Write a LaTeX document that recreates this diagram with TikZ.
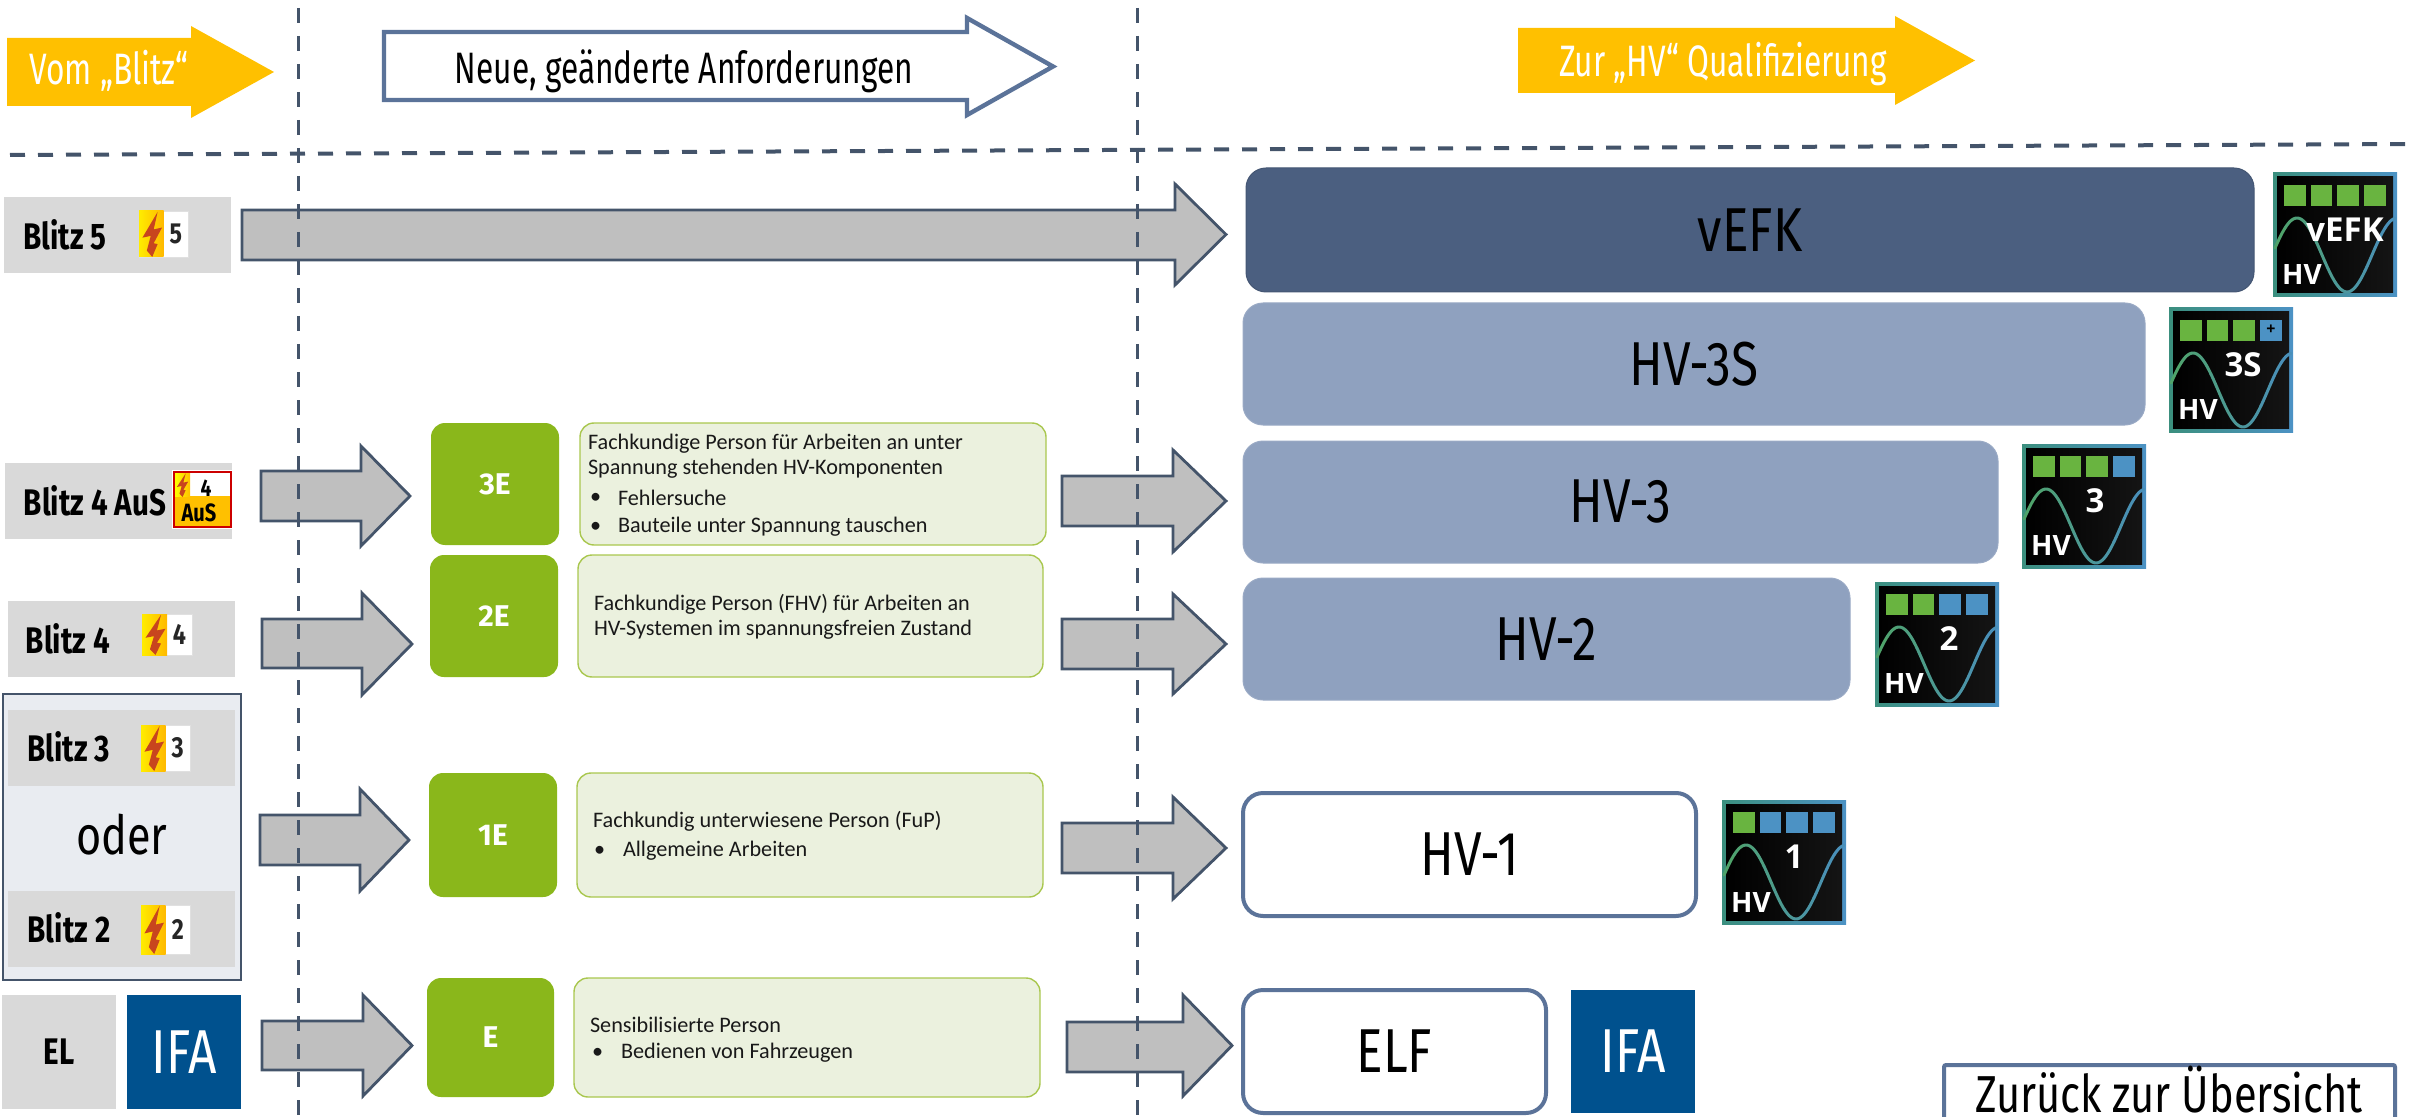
\documentclass[tikz,border=0pt]{standalone}
\usepackage{fontspec}
\setmainfont{Fira Sans}
\newfontfamily\cond[FakeStretch=0.72]{Fira Sans}
\newfontfamily\condb[FakeStretch=0.8]{Fira Sans}
\newfontfamily\desc{Carlito}
\newfontfamily\ico{Open Sans}
\usetikzlibrary{calc,shadings}
\definecolor{dashc}{HTML}{44546A}
\definecolor{steel}{HTML}{5B7399}
\definecolor{boxgrey}{HTML}{D9D9D9}
\definecolor{arrgrey}{HTML}{BFBFBF}
\definecolor{amber}{HTML}{FFC000}
\definecolor{leaf}{HTML}{8AB71B}
\definecolor{pale}{HTML}{EBF1DE}
\definecolor{paleedge}{HTML}{A9C74F}
\definecolor{hvmid}{HTML}{8FA1BF}
\definecolor{hvdark}{HTML}{4B5F80}
\definecolor{ifablue}{HTML}{00518E}
\definecolor{panel}{HTML}{E9ECF1}
\definecolor{icogreen}{HTML}{69B440}
\definecolor{icoblue}{HTML}{4C92C4}
\definecolor{icoteal}{HTML}{3B8F7E}
\definecolor{wavea}{HTML}{4FA36B}
\definecolor{waveb}{HTML}{4A90B8}
\definecolor{boltc}{HTML}{C8451E}
\tikzset{
  x=0.5pt,y=-0.5pt,
  every node/.style={inner sep=0pt,outer sep=0pt,align=center,text=black},
  greybox/.style={fill=boxgrey},
  blockbig/.style={draw=dashc,line width=1.4pt,fill=arrgrey,line join=miter},
  leafbox/.style={fill=leaf,rounded corners=7pt,text=white,font=\bfseries\fontsize{15}{17}\selectfont},
  palebox/.style={fill=pale,draw=paleedge,line width=0.7pt,rounded corners=7pt},
  hvfilled/.style={fill=hvmid,draw=hvmid!90!white,line width=0.5pt,rounded corners=10pt,font=\condb\fontsize{31}{36}\selectfont},
  hvdarkbox/.style={fill=hvdark,draw=hvdark!90!black,line width=0.5pt,rounded corners=10pt,font=\condb\fontsize{31}{36}\selectfont},
  hvopen/.style={fill=white,draw=steel,line width=2pt,rounded corners=10pt,font=\condb\fontsize{31}{36}\selectfont},
  ifabox/.style={fill=ifablue,text=white,font=\condb\fontsize{31}{36}\selectfont},
  blitztxt/.style={font=\condb\bfseries\fontsize{18.5}{22}\selectfont},
  desctxt/.style={anchor=west,align=left,text=black!90,font=\desc\fontsize{11.1}{13}\selectfont},
  dashline/.style={draw=dashc,line width=1.5pt,dash pattern=on 7.5pt off 6.5pt},
  icolab/.style={font=\ico\bfseries\fontsize{16.5}{20}\selectfont,text=white},
}
% box node given by its corners
\newcommand\bx[7]{%
  \node[#2,minimum width=#5*0.5pt-#3*0.5pt,minimum height=#6*0.5pt-#4*0.5pt] (#1) at ({(#3+#5)/2},{(#4+#6)/2}) {#7};}
% block arrow: x start, head x, tip x, body top, body bottom, head top, head bottom
\newcommand\barrow[8]{%
  \path[#1] (#2,#5) -- (#3,#5) -- (#3,#7) -- (#4,{(#7+#8)/2}) -- (#3,#8) -- (#3,#6) -- (#2,#6) -- cycle;}
% lightning icon
\newcommand\bolt[4]{%
  \begin{scope}[shift={(#1,#2)},x=#3*0.5pt,y=-#4*0.5pt]
    \fill[boltc] (0.38,0.02) -- (0.07,0.58) -- (0.24,0.54) -- (0.16,0.86) -- (0.27,1) -- (0.38,0.72) -- (0.30,0.70) -- (0.47,0.36) -- (0.30,0.40) -- cycle;
  \end{scope}}
\newcommand\blitzicon[6]{%
  \fill[white,draw=black!12,line width=0.3pt] (#2,#3) rectangle (#4,#5);
  \shade[left color=yellow!85!orange,right color=orange!55!yellow] (#2,#3) rectangle ({(#2+#4)/2},#5);
  \pgfmathsetmacro\bw{#4-#2}\pgfmathsetmacro\bh{#5-#3}
  \bolt{#2}{#3}{\bw}{\bh}
  \node[font=\condb\bfseries\fontsize{14.5}{17}\selectfont,text=black!85] (#1) at ({#2+0.75*(#4-#2)},{(#3+#5)/2}) {#6};}
% HV badge: name, label, four square colours, label position (place inside a shifted scope)
\newcommand\hvicon[7]{%
  \begin{scope}
    \shade[left color=icoteal,middle color=icogreen,right color=icoblue] (0,0) rectangle (124,124);
    \fill[icoteal] (0,4) rectangle (4,120);
    \fill[icoblue] (120,4) rectangle (124,120);
    \shade[left color=black,middle color=black!72,right color=black!92] (4,4) rectangle (120,120);
    \fill[#3] (11,12) rectangle (33,33);
    \fill[#4] (38,12) rectangle (59,33);
    \fill[#5] (64,12) rectangle (86,33);
    \fill[#6] (91,12) rectangle (113,33);
    \foreach \a in {0,10,...,110}{
      \pgfmathsetmacro\mixp{min(100,\a*0.95)}
      \draw[line width=1.5pt,line cap=round,color=waveb!\mixp!wavea]
        plot[domain=\a+2:\a+12,samples=8] (\x,{82-37*sin(3.6*(\x+1))});
    }
    \node[font=\ico\bfseries\fontsize{14}{16}\selectfont,text=white] (#1-hv) at (29,102) {HV};
    \node[icolab] (#1-t) at (#7) {#2};
  \end{scope}}
\begin{document}
\begin{tikzpicture}
\useasboundingbox (0,0) rectangle (2418,1117);
\clip (0,0) rectangle (2418,1117);
% header arrows
\barrow{fill=amber}{7}{191}{274}{38}{106}{26}{118}
\node[font=\cond\fontsize{22}{26}\selectfont,text=white] (vom) at (109,71) {Vom „Blitz“};
\barrow{draw=steel,line width=2.2pt,fill=white}{384}{967}{1053}{32}{100}{18}{115}
\node[font=\cond\fontsize{22}{26}\selectfont] (neue) at (684,71) {Neue, geänderte Anforderungen};
\barrow{fill=amber}{1518}{1895}{1975}{28}{93}{16}{105}
\node[font=\cond\fontsize{22}{26}\selectfont,text=white] (zur) at (1723,64) {Zur „HV“ Qualifizierung};
% left column
\bx{b5}{greybox}{4}{197}{231}{273}{}
\node[blitztxt] (b5t) at (65,235) {Blitz 5};
\blitzicon{b5i}{139}{211}{188}{257}{5}
\bx{b4a}{greybox}{5}{463}{232}{539}{}
\node[blitztxt] (b4at) at (95,501) {Blitz 4 AuS};
\fill[white] (172,470) rectangle (233,529);
\fill[amber,draw=red!80!black,line width=1.1pt] (174,472) rectangle (231,527);
\fill[white] (175,473) rectangle (230,496);
\shade[left color=yellow,right color=amber] (175,473) rectangle (190,496);
\bolt{175}{473}{28}{24}
\node[font=\condb\bfseries\fontsize{12}{13}\selectfont] (b4ai) at (206,488) {4};
\node[font=\condb\bfseries\fontsize{12.5}{14}\selectfont] (b4as) at (199,513) {AuS};
\bx{b4}{greybox}{8}{601}{235}{677}{}
\node[blitztxt] (b4t) at (68,639) {Blitz 4};
\blitzicon{b4i}{142}{614}{192}{655}{4}
\bx{grp}{fill=panel,draw=dashc,line width=1.3pt}{3}{694}{241}{980}{}
\bx{b3}{greybox}{8}{710}{235}{786}{}
\node[blitztxt] (b3t) at (69,747) {Blitz 3};
\blitzicon{b3i}{141}{725}{190}{771}{3}
\node[font=\condb\fontsize{27}{30}\selectfont] (oder) at (122,835) {oder};
\bx{b2}{greybox}{8}{891}{235}{967}{}
\node[blitztxt] (b2t) at (69,928) {Blitz 2};
\blitzicon{b2i}{141}{905}{190}{954}{2}
\bx{el}{greybox,blitztxt}{2}{995}{116}{1109}{EL}
\bx{ifa1}{ifabox}{127}{995}{241}{1109}{IFA}
% green tags
\bx{e3}{leafbox}{431}{423}{559}{545}{3E}
\bx{e2}{leafbox}{430}{555}{558}{677}{2E}
\bx{e1}{leafbox}{429}{773}{557}{897}{1E}
\bx{e0}{leafbox}{427}{978}{554}{1097}{E}
% description boxes
\bx{d3}{palebox}{580}{423}{1046}{545}{}
\node[desctxt] (d3a) at (588,444) {Fachkundige Person für Arbeiten an unter};
\node[desctxt] (d3b) at (588,469) {Spannung stehenden HV-Komponenten};
\node[desctxt] (d3c) at (590,498) {•};
\node[desctxt] (d3d) at (618,498) {Fehlersuche};
\node[desctxt] (d3e) at (590,527) {•};
\node[desctxt] (d3f) at (618,527) {Bauteile unter Spannung tauschen};
\bx{d2}{palebox}{578}{555}{1043}{677}{}
\node[desctxt] (d2a) at (594,604) {Fachkundige Person (FHV) für Arbeiten an};
\node[desctxt] (d2b) at (594,630) {HV-Systemen im spannungsfreien Zustand};
\bx{d1}{palebox}{577}{773}{1043}{897}{}
\node[desctxt] (d1a) at (593,821) {Fachkundig unterwiesene Person (FuP)};
\node[desctxt] (d1b) at (594,851) {•};
\node[desctxt] (d1c) at (623,851) {Allgemeine Arbeiten};
\bx{d0}{palebox}{574}{978}{1040}{1097}{}
\node[desctxt] (d0a) at (590,1025) {Sensibilisierte Person};
\node[desctxt] (d0b) at (592,1053) {•};
\node[desctxt] (d0c) at (621,1053) {Bedienen von Fahrzeugen};
% HV bars
\bx{vefk}{hvdarkbox}{1246}{168}{2254}{292}{vEFK}
\bx{hv3s}{hvfilled}{1243}{303}{2145}{425}{HV-3S}
\bx{hv3}{hvfilled}{1243}{441}{1998}{563}{HV-3}
\bx{hv2}{hvfilled}{1243}{578}{1850}{700}{HV-2}
\bx{hv1}{hvopen}{1243}{793}{1696}{916}{HV-1}
\bx{elf}{hvopen}{1243}{990}{1546}{1113}{ELF}
\bx{ifa2}{ifabox}{1571}{990}{1695}{1113}{IFA}
% block arrows
\barrow{blockbig}{242}{1175}{1226}{210}{260}{184}{285}
\barrow{blockbig}{261}{361}{410}{471}{521}{446}{546}
\barrow{blockbig}{262}{362}{412}{619}{668}{593}{695}
\barrow{blockbig}{260}{360}{409}{815}{865}{789}{891}
\barrow{blockbig}{262}{363}{412}{1021}{1070}{995}{1096}
\barrow{blockbig}{1062}{1173}{1226}{476}{526}{450}{552}
\barrow{blockbig}{1062}{1173}{1226}{619}{669}{594}{694}
\barrow{blockbig}{1062}{1173}{1226}{823}{873}{797}{899}
\barrow{blockbig}{1067}{1183}{1232}{1022}{1072}{995}{1096}
% badges
\begin{scope}[shift={(2273,173)}]\hvicon{iv}{vEFK}{icogreen}{icogreen}{icogreen}{icogreen}{72,57}\end{scope}
\begin{scope}[shift={(2169,308)}]\hvicon{is}{3S}{icogreen}{icogreen}{icogreen}{icoblue}{74,57}\end{scope}
\node[font=\ico\bfseries\fontsize{8}{9}\selectfont,text=black] (isp) at (2271,330) {+};
\begin{scope}[shift={(2022,444)}]\hvicon{i3}{3}{icogreen}{icogreen}{icogreen}{icoblue}{73,57}\end{scope}
\begin{scope}[shift={(1875,582)}]\hvicon{i2}{2}{icogreen}{icogreen}{icoblue}{icoblue}{74,57}\end{scope}
\begin{scope}[shift={(1722,800)}]\hvicon{i1}{1}{icogreen}{icoblue}{icoblue}{icoblue}{72,57}\end{scope}
% back button
\bx{back}{fill=white,draw=steel,line width=2pt,rounded corners=1pt}{1944}{1065}{2395}{1180}{}
\node[font=\condb\fontsize{26}{30}\selectfont,anchor=base] (backt) at (2169,1112) {Zurück zur Übersicht};
% dashed guides
\coordinate (g1t) at (298,8); \coordinate (g1b) at (298,1117);
\coordinate (g2t) at (1137,8); \coordinate (g2b) at (1137,1117);
\coordinate (hl) at (10,155); \coordinate (hr) at (2418,144);
\draw[dashline] (g1t) -- (g1b);
\draw[dashline] (g2t) -- (g2b);
\draw[dashline,line width=2pt] (hl) -- (hr);
\end{tikzpicture}
\end{document}
